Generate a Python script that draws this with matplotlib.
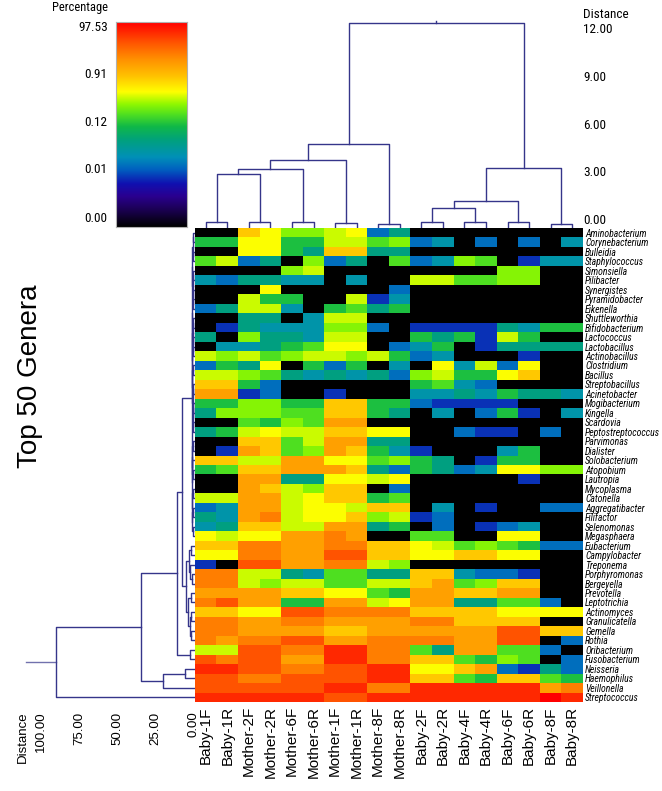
import matplotlib.pyplot as plt
import numpy as np
from matplotlib import font_manager
from matplotlib.colors import LinearSegmentedColormap

plt.rcParams['font.family'] = ['Liberation Sans', 'DejaVu Sans']

# the reference uses a narrow Arial; use a narrow family if one is installed
installed = {f.name for f in font_manager.fontManager.ttflist}
narrow_name = next((n for n in ['Liberation Sans Narrow', 'Roboto Condensed',
                                'Open Sans Condensed', 'DejaVu Sans Condensed']
                    if n in installed), None)
if narrow_name:
    NARROW = [narrow_name, 'Liberation Sans', 'DejaVu Sans']
    small_fs, row_fs = 9, 7
else:
    NARROW = ['Liberation Sans', 'DejaVu Sans']
    small_fs, row_fs = 8, 5.9

samples = ["Baby-1F", "Baby-1R", "Mother-2F", "Mother-2R", "Mother-6F", "Mother-6R",
           "Mother-1F", "Mother-1R", "Mother-8F", "Mother-8R", "Baby-2F", "Baby-2R",
           "Baby-4F", "Baby-4R", "Baby-6F", "Baby-6R", "Baby-8F", "Baby-8R"]

genera = ["Aminobacterium", "Corynebacterium", "Bulleidia", "Staphylococcus", "Simonsiella",
          "Pilibacter", "Synergistes", "Pyramidobacter", "Eikenella", "Shuttleworthia",
          "Bifidobacterium", "Lactococcus", "Lactobacillus", "Actinobacillus", "Clostridium",
          "Bacillus", "Streptobacillus", "Acinetobacter", "Mogibacterium", "Kingella",
          "Scardovia", "Peptostreptococcus", "Parvimonas", "Dialister", "Solobacterium",
          "Atopobium", "Lautropia", "Mycoplasma", "Catonella", "Aggregatibacter",
          "Filifactor", "Selenomonas", "Megasphaera", "Eubacterium", "Campylobacter",
          "Treponema", "Porphyromonas", "Bergeyella", "Prevotella", "Leptotrichia",
          "Actinomyces", "Granulicatella", "Gemella", "Rothia", "Oribacterium",
          "Fusobacterium", "Neisseria", "Haemophilus", "Veillonella", "Streptococcus"]

# one hex code per sample (0 = absent ... f = highest)
heat_codes = [
    "00a977892400000000",
    "559955886723020203",
    "009954aa4400000000",
    "682407240623760133",
    "000078000000007700",
    "324433030088667700",
    "000900000200000000",
    "008550081300000000",
    "248830564500000000",
    "004403880000000000",
    "014333772011114355",
    "407443880054518500",
    "033456990235014444",
    "878678878523000100",
    "254905250309382900",
    "887643434278559a00",
    "aa5200000056320000",
    "bb1200100033435443",
    "557755aa5521111000",
    "477766aa5403025103",
    "006576bb0000000000",
    "458988aa9900211020",
    "00aa68bb4400000000",
    "01ba67ba5310003500",
    "aa88bb996754015500",
    "56aabbba4254239977",
    "00bb44998900000100",
    "00ba87aa0200000000",
    "88bb89aa5600000000",
    "23bb8998aa03010022",
    "43bc899a7812000000",
    "34aa88bb4502012300",
    "9899bbcb0066009900",
    "aaccbbccaa98676522",
    "99ccbbddaa99aa9900",
    "10ddbbcc8700000000",
    "cc88436644aa322100",
    "cc87886688ab67aa00",
    "bbbbaa9965bbaabb00",
    "cdbb55bb89bb446620",
    "aa99ddccccaaaa9999",
    "ccbbccbbbbccaaaa00",
    "ccbbbbaabbbbbbddaa",
    "cbccddbbccccbbdd02",
    "88ddcceecc64bb6620",
    "dcddbbeeccaa657602",
    "eeddccddee99ab2142",
    "ddccddddeeaa65aa65",
    "ddddddeecceeeeeebc",
    "eeeeeeddeeeeeeeefe",
]

# position of each code on the colour scale
levels = [0.0, 0.24, 0.30, 0.36, 0.42, 0.50, 0.55, 0.59,
          0.63, 0.66, 0.73, 0.79, 0.84, 0.90, 0.95, 1.0]

pct_labels = ["0.00", "0.01", "0.12", "0.91", "97.53"]
pct_pos = [0.049, 0.288, 0.517, 0.751, 0.98]

dist_top_ticks = [0, 3, 6, 9, 12]
dist_left_ticks = [0, 25, 50, 75, 100]

# dendrograms as (height, left, right), leaves are indices
col_tree = (12.6,
            (5.03, (4.03, (3.49, (3.16, (0.14, 0, 1), (0.18, 2, 3)), (0.14, 4, 5)), (0.09, 6, 7)),
             (0.05, 8, 9)),
            (3.51, (1.49, (1.01, (0.14, 10, 11), (0.14, 12, 13)), (0.14, 14, 15)),
             (0.02, 16, 17)))

rows_low_a = (0.5,
              (0.35, (0.2, (0.1, 0, 1), (0.15, 2, 3)),
               (0.25, (0.12, 4, 5), (0.18, 6, (0.1, 7, 8)))),
              (0.4, (0.3, (0.15, 9, 10), (0.2, 11, (0.1, 12, 13))),
               (0.35, (0.2, 14, 15), (0.25, (0.15, 16, 17), (0.3, (0.2, 18, 19), (0.1, 20, 21))))))
rows_low_b = (0.8, (0.5, (0.3, 22, 23), (0.4, 24, (0.2, 25, 26))),
              (0.6, (0.3, 27, 28), (0.45, (0.25, 29, 30), (0.3, 31, 32))))
rows_mid = (4.5, (2.5, (1.5, 33, 34), (1.8, 35, (1.0, 36, 37))),
            (3.2, (1.2, 38, 39), (2.2, (1.4, 40, 41), (1.6, 42, 43))))
row_tree = (90,
            (34, (10.7, (7.3, (1.0, rows_low_a, rows_low_b), rows_mid), (2.0, 44, 45)),
             (20, (5, 46, 47), 48)),
            49)

LINE = '#35358a'
W, H = 662, 791


def box(x0, y0, x1, y1):
    return [x0 / W, 1 - y1 / H, (x1 - x0) / W, (y1 - y0) / H]


def draw_tree(ax, node, leaf_h, top):
    # returns centre position and height of the node
    if isinstance(node, int):
        return node, leaf_h
    h, left, right = node
    c1, h1 = draw_tree(ax, left, leaf_h, top)
    c2, h2 = draw_tree(ax, right, leaf_h, top)
    if top:
        ax.plot([c1, c1, c2, c2], [h1, h, h, h2], color=LINE, lw=1)
    else:
        ax.plot([h1, h, h, h2], [c1, c1, c2, c2], color=LINE, lw=1)
    return (c1 + c2) / 2, h


cmap = LinearSegmentedColormap.from_list("pct", [
    (0.0, "#000000"), (0.08, "#1a0050"), (0.15, "#2a0090"), (0.21, "#1010b0"),
    (0.28, "#0060c0"), (0.34, "#0090b8"), (0.42, "#00a080"), (0.49, "#10b848"),
    (0.55, "#50e020"), (0.60, "#90f800"), (0.66, "#ffff00"), (0.74, "#ffc000"),
    (0.82, "#ff9000"), (0.90, "#ff5500"), (1.0, "#ff0000")])

values = np.array([[levels[int(ch, 16)] for ch in row] for row in heat_codes])

fig = plt.figure(figsize=(W / 100, H / 100), dpi=100)

# heatmap
ax = fig.add_axes(box(195, 228, 583, 702))
ax.imshow(values, cmap=cmap, vmin=0, vmax=1, aspect='auto', interpolation='nearest')
ax.set_xticks(range(len(samples)))
ax.set_xticklabels(samples, rotation=90, fontsize=11)
ax.yaxis.tick_right()
ax.set_yticks(range(len(genera)))
ax.set_yticklabels(genera, fontsize=row_fs, style='italic', family=NARROW)
ax.tick_params(axis='y', length=0, pad=1.5)
ax.tick_params(axis='x', length=0, pad=3)
for s in ax.spines.values():
    s.set_visible(False)

# top dendrogram
axt = fig.add_axes(box(195, 10, 583, 228))
cx, top_h = draw_tree(axt, col_tree, -0.22, True)
axt.plot([cx, cx], [top_h, top_h + 0.15], color=LINE, lw=1)
axt.set_xlim(-0.5, len(samples) - 0.5)
axt.set_ylim(-0.22, 13.41)
axt.axis('off')
for t in dist_top_ticks:
    axt.text(1.0, t, f"{t:.2f}", transform=axt.get_yaxis_transform(), fontsize=small_fs + 0.5,
             family=NARROW, va='baseline', ha='left')
axt.text(1.0, 13.11, "Distance", transform=axt.get_yaxis_transform(), fontsize=small_fs + 0.5,
         family=NARROW, va='center', ha='left')

# left dendrogram
axl = fig.add_axes(box(20, 228, 195, 702))
cy, root_h = draw_tree(axl, row_tree, -1.3, False)
axl.plot([root_h, root_h + 19.7], [cy, cy], color=LINE, lw=1, alpha=0.7)
axl.set_ylim(len(genera) - 0.5, -0.5)
axl.set_xlim(113.8, -1.3)
axl.axis('off')
for t in dist_left_ticks:
    axl.text(t, 50.5, f"{t:.2f}", fontsize=9.5, rotation=90, ha='center', va='top')
axl.text(112, 50.5, "Distance", fontsize=9.5, rotation=90, ha='center', va='top')

fig.text(30 / W, 1 - 376 / H, "Top 50 Genera", fontsize=20, rotation=90,
         ha='center', va='center')

# colour bar
axc = fig.add_axes(box(116, 22, 187, 227))
grad = np.linspace(0, 1, 256).reshape(-1, 1)
axc.imshow(grad, cmap=cmap, aspect='auto', origin='lower', extent=[0, 1, 0, 1])
axc.set_xticks([])
axc.set_yticks(pct_pos)
axc.set_yticklabels(pct_labels, fontsize=small_fs + 0.5, family=NARROW)
axc.tick_params(length=0, pad=6)
for s in axc.spines.values():
    s.set_color('#b0b0b0')
    s.set_linewidth(0.8)
fig.text(108 / W, 1 - 8 / H, "Percentage", fontsize=small_fs, family=NARROW,
         ha='right', va='center')

fig.savefig("out.png", dpi=100)
